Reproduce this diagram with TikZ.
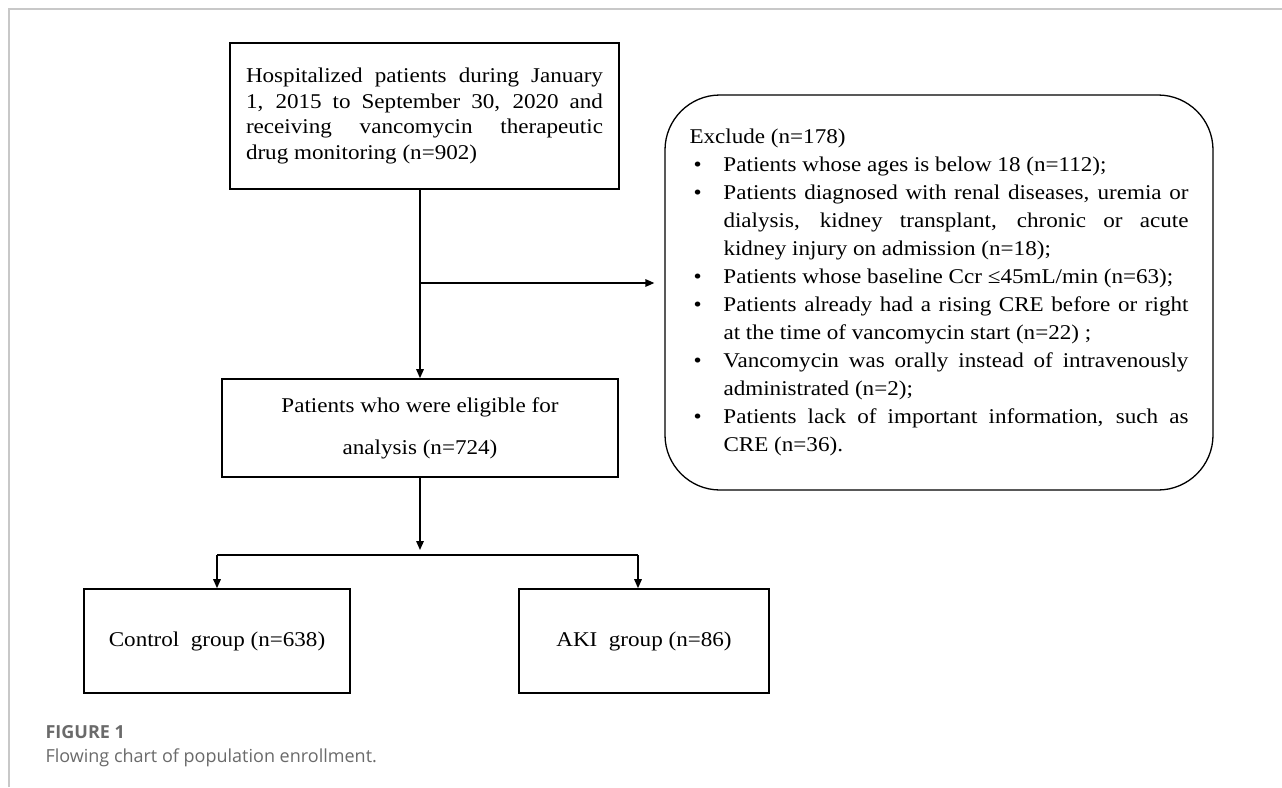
\documentclass[tikz,border=0pt]{standalone}
\usepackage{fontspec}
\setmainfont{Liberation Serif}[FakeStretch=1.1]
\newfontfamily\capfont{Open Sans}
\usetikzlibrary{arrows.meta}
\definecolor{framegray}{HTML}{C8C8C8}
\definecolor{capgray}{HTML}{6A6A6A}
\newcommand{\xitem}[1]{\par\noindent\hangindent=34pt\hangafter=1\hbox to 34pt{\hskip4pt\textbullet\hfil}#1}

\begin{document}
\begin{tikzpicture}[x=1pt,y=-1pt,
box/.style={draw, line width=1.6pt, inner sep=0pt, font=\fontsize{21}{25.5}\selectfont},
link/.style={line width=1.5pt, -{Triangle[length=9pt,width=7.5pt]}}]
\useasboundingbox (0,0) rectangle (1282,787);
\draw[framegray, line width=1.5pt] (9,787) -- (9,9) -- (1282,9);

\node[box, minimum width=389pt, minimum height=146pt, text width=357pt, align=justify] (a) at (424.5,116)
   {\noindent Hospitalized patients during January\linebreak 1, 2015 to September 30, 2020 and\linebreak receiving vancomycin therapeutic\linebreak drug monitoring (n=902)\par};
\node[box, minimum width=396pt, minimum height=98pt, align=center, font=\fontsize{21}{42}\selectfont] (b) at (420,428)
   {Patients who were eligible for\\analysis (n=724)};
\node[box, line width=1.3pt, rounded corners=55pt, minimum width=548pt, minimum height=395pt, text width=499pt, align=justify, font=\fontsize{21}{28}\selectfont] (c) at (939,292.5)
   {\noindent Exclude (n=178)
   \xitem{Patients whose ages is below 18 (n=112);}
   \xitem{Patients diagnosed with renal diseases, uremia or\linebreak dialysis, kidney transplant, chronic or acute\linebreak kidney injury on admission (n=18);}
   \xitem{Patients whose baseline Ccr ≤45mL/min (n=63);}
   \xitem{Patients already had a rising CRE before or right\linebreak at the time of vancomycin start (n=22) ;}
   \xitem{Vancomycin was orally instead of intravenously\linebreak administrated (n=2);}
   \xitem{Patients lack of important information, such as\linebreak CRE (n=36).}\par};
\node[box, minimum width=266pt, minimum height=104pt] (d) at (217,641) {Control~ group (n=638)};
\node[box, minimum width=250pt, minimum height=104pt] (e) at (644,641) {AKI~ group (n=86)};

\coordinate (j1) at (420,283);
\coordinate (j2) at (420,555);
\coordinate (l) at (217,555);
\coordinate (r) at (638,555);
\draw[link] (a.south -| b.north) -- (b.north);
\draw[link, shorten >=10pt] (j1) -- (j1 -| c.west);
\draw[link, shorten >=5pt] (b.south) -- (j2);
\draw[line width=1.5pt] (l) -- (r);
\draw[link] (l) -- (l |- d.north);
\draw[link] (r) -- (r |- e.north);

\node[anchor=base west, text=capgray, font=\capfont\bfseries\fontsize{18}{20}\selectfont] (fig) at (42,738) {FIGURE 1};
\node[anchor=base west, text=capgray, font=\capfont\fontsize{18}{20}\selectfont] (cap) at (42,762) {Flowing chart of population enrollment.};
\end{tikzpicture}
\end{document}
